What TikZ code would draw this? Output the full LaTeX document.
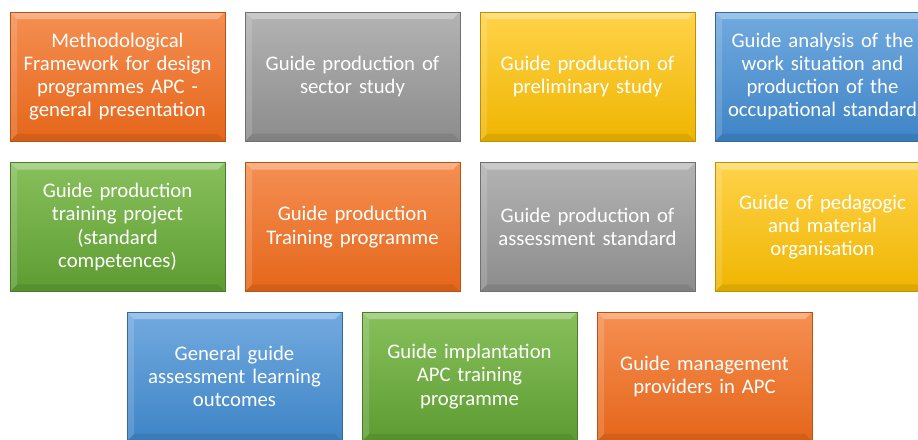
\documentclass[tikz,border=0pt]{standalone}
\usepackage{fontspec}
\setmainfont{Carlito}
\usetikzlibrary{calc}

\definecolor{orangetop}{HTML}{F58F52}
\definecolor{orangebot}{HTML}{E5661A}
\definecolor{graytop}{HTML}{B3B3B3}
\definecolor{graybot}{HTML}{8C8C8C}
\definecolor{yellowtop}{HTML}{FFD34A}
\definecolor{yellowbot}{HTML}{EFB500}
\definecolor{bluetop}{HTML}{72AADF}
\definecolor{bluebot}{HTML}{3E84C6}
\definecolor{greentop}{HTML}{88C05C}
\definecolor{greenbot}{HTML}{5D9C32}

\tikzset{
    guide/.style = {rectangle, minimum width = 4.3cm, minimum height = 2.58cm, text width = 4.2cm,
        align = center, text = white, font = \fontsize{11.8}{13.2}\selectfont, inner sep = 0pt,
        draw = #1bot!80!black, line width = 0.4pt, top color = #1top, bottom color = #1bot,
        path picture = {
            \fill[white, opacity = 0.3] (path picture bounding box.north west) -- (path picture bounding box.north east)
                -- ([shift = {(-4pt, -4pt)}]path picture bounding box.north east) -- ([shift = {(4pt, -4pt)}]path picture bounding box.north west) -- cycle;
            \fill[white, opacity = 0.15] (path picture bounding box.north west) -- (path picture bounding box.south west)
                -- ([shift = {(4pt, 4pt)}]path picture bounding box.south west) -- ([shift = {(4pt, -4pt)}]path picture bounding box.north west) -- cycle;
            \fill[black, opacity = 0.08] (path picture bounding box.south west) -- (path picture bounding box.south east)
                -- ([shift = {(-4pt, 4pt)}]path picture bounding box.south east) -- ([shift = {(4pt, 4pt)}]path picture bounding box.south west) -- cycle;
        }}
}

\begin{document}
\begin{tikzpicture}[x = 0.02cm, y = -0.02cm]
            \useasboundingbox (0, 0) rectangle (918, 439);
            \clip (0, 0) rectangle (918, 439);

            \node[guide = orange] (framework) at (117.5, 76.5) {Methodological\\ Framework for design\\ programmes APC -\\ general presentation};
            \node[guide = gray] (sector) at (352.5, 76.5) {Guide production of\\ sector study};
            \node[guide = yellow] (preliminary) at (587.5, 76.5) {Guide production of\\ preliminary study};
            \node[guide = blue] (occupational) at (822.5, 76.5) {Guide analysis of the\\ work situation and\\ production of the\\ occupational standard};

            \node[guide = green] (project) at (117.5, 227) {Guide production\\ training project\\ (standard\\ competences)};
            \node[guide = orange] (programme) at (352.5, 227) {Guide production\\ Training programme};
            \node[guide = gray] (assessment) at (587.5, 227) {Guide production of\\ assessment standard};
            \node[guide = yellow] (pedagogic) at (822.5, 227) {Guide of pedagogic\\ and material\\ organisation};

            \node[guide = blue] (outcomes) at (234.5, 376.5) {General guide\\ assessment learning\\ outcomes};
            \node[guide = green] (implantation) at (469.5, 376.5) {Guide implantation\\ APC training\\ programme};
            \node[guide = orange] (providers) at (704.5, 376.5) {Guide management\\ providers in APC};
        \end{tikzpicture}
\end{document}
